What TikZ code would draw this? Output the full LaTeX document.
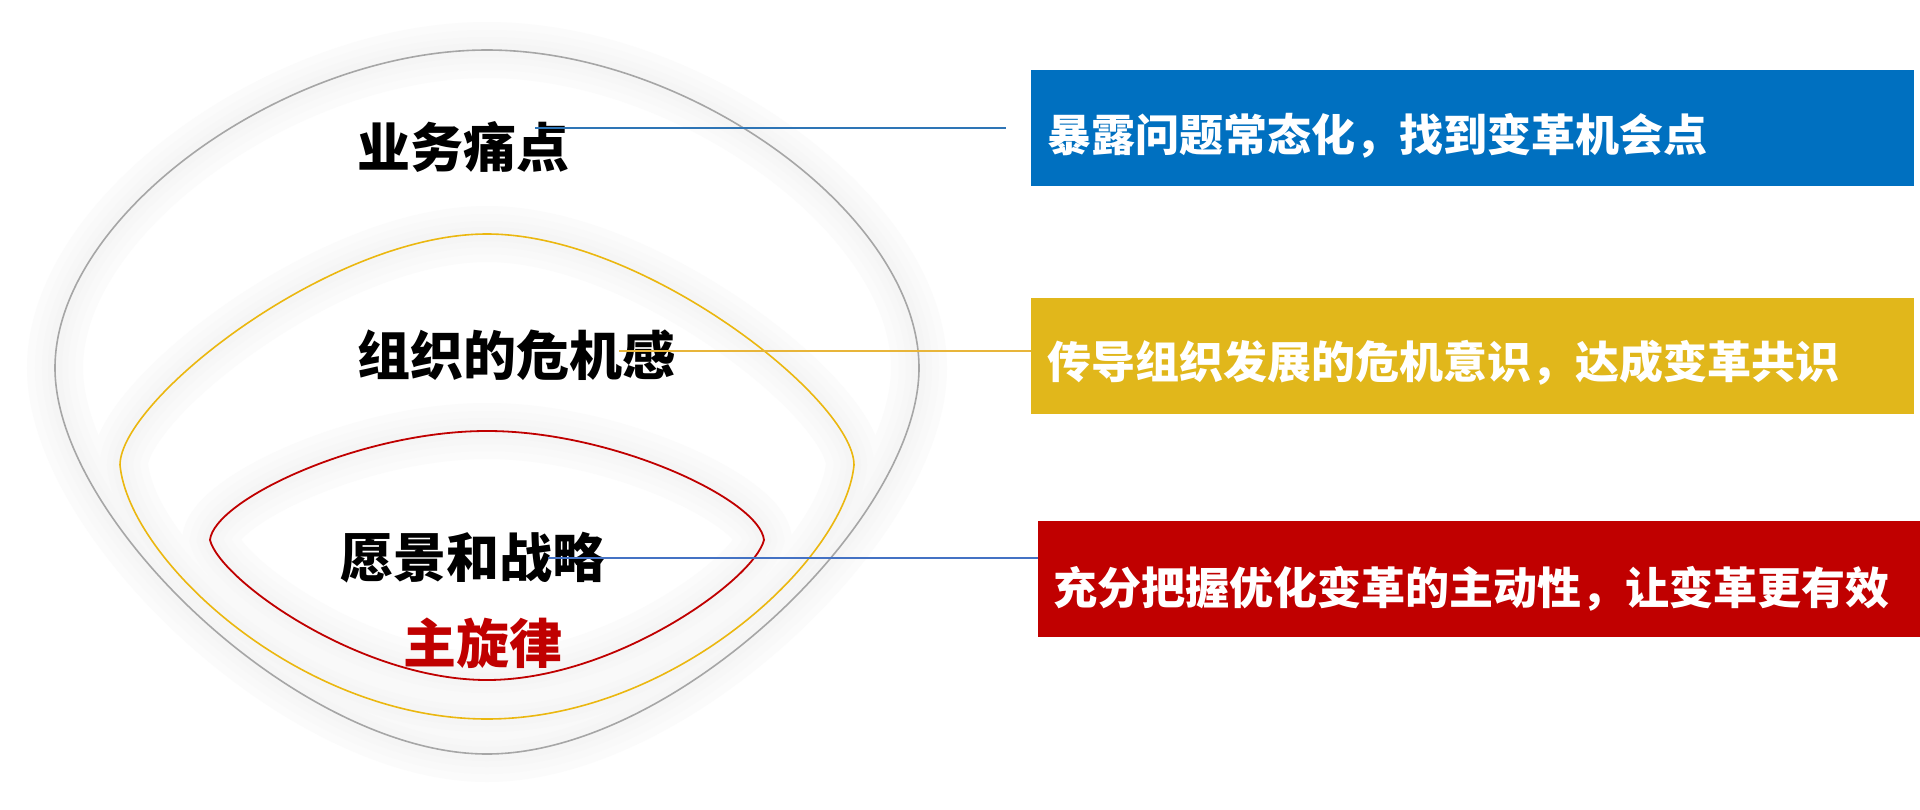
\documentclass[tikz,border=0pt]{standalone}
\usepackage{fontspec}
\newfontfamily\cjk{Noto Sans CJK SC}
\definecolor{ringgray}{HTML}{A6A6A6}
\definecolor{ringgold}{HTML}{EBB70F}
\definecolor{ringred}{HTML}{C00000}
\definecolor{boxblue}{HTML}{0070C0}
\definecolor{boxgold}{HTML}{E1B71B}
\definecolor{boxred}{HTML}{C00000}
\definecolor{lineblue}{HTML}{2E75B6}
\definecolor{lineblueb}{HTML}{4472C4}
\definecolor{linegold}{HTML}{E8B53A}
\newcommand\ringOuter[1]{\draw[#1] (55,368) .. controls (55,215) and (285,50) .. (487,50) .. controls (689,50) and (919,215) .. (919,368) .. controls (919,520) and (674,754) .. (487,754) .. controls (300,754) and (55,520) .. (55,368) -- cycle;}
\newcommand\ringMid[1]{\draw[#1] (120,465) .. controls (120,400) and (330,234) .. (487,234) .. controls (644,234) and (854,400) .. (854,465) .. controls (845,560) and (674,719) .. (487,719) .. controls (300,719) and (129,560) .. (120,465) -- cycle;}
\newcommand\ringInner[1]{\draw[#1] (210,540) .. controls (214,500) and (360,431) .. (487,431) .. controls (614,431) and (760,500) .. (764,540) .. controls (754,580) and (614,680) .. (487,680) .. controls (360,680) and (220,580) .. (210,540) -- cycle;}
\begin{document}
\begin{tikzpicture}[x=1pt,y=-1pt,
  lbl/.style={inner sep=0pt,anchor=west,font=\cjk\bfseries\fontsize{53}{60}\selectfont},
  boxtxt/.style={inner sep=0pt,anchor=west,text=white,font=\cjk\bfseries\fontsize{44}{50}\selectfont},
  box/.style={inner sep=0pt,anchor=north west,draw=none},
  conn/.style={line width=1.2pt}]
\useasboundingbox (0,0) rectangle (1920,809);
\fill[white] (0,0) rectangle (1920,809);
% soft glows
\foreach \w/\c in {56/1.5,40/2.2,26/3,14/4}{
  \ringOuter{line width=\w pt,black!\c}
  \ringMid{line width=\w pt,black!\c}
  \ringInner{line width=\w pt,black!\c}
}
% outlines
\ringOuter{line width=1.6pt,ringgray}
\ringMid{line width=1.6pt,ringgold}
\ringInner{line width=1.8pt,ringred}
% left labels
\node[lbl] (p1) at (357,147) {业务痛点};
\node[lbl] (p2) at (357,355) {组织的危机感};
\node[lbl] (p3) at (340,558) {愿景和战略};
\node[lbl,text=ringred] (p4) at (403,643) {主旋律};
% boxes
\node[box,fill=boxblue,minimum width=883pt,minimum height=116pt] (b1) at (1031,70) {};
\node[box,fill=boxgold,minimum width=883pt,minimum height=116pt] (b2) at (1031,298) {};
\node[box,fill=boxred,minimum width=882pt,minimum height=116pt] (b3) at (1038,521) {};
\node[boxtxt] (t1) at (1047,136) {暴露问题常态化，找到变革机会点};
\node[boxtxt] (t2) at (1047,363) {传导组织发展的危机意识，达成变革共识};
\node[boxtxt] (t3) at (1053,589) {充分把握优化变革的主动性，让变革更有效};
% connectors
\coordinate (s1) at (535,128);
\coordinate (e1) at (1006,128);
\coordinate (s2) at (619,351);
\coordinate (s3) at (548,558);
\draw[conn,lineblue] (s1) -- (e1);
\draw[conn,linegold] (s2) -- (s2 -| b2.west);
\draw[conn,lineblueb] (s3) -- (s3 -| b3.west);
\end{tikzpicture}
\end{document}
